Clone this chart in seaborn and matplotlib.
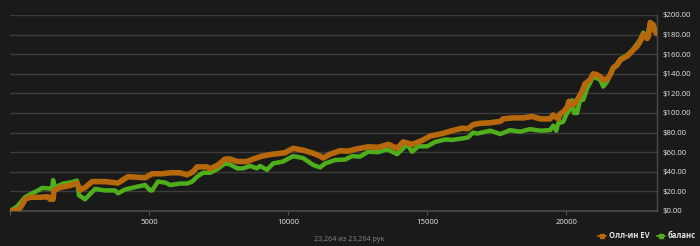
import numpy as np
import pandas as pd
import matplotlib
matplotlib.use("Agg")
import matplotlib.pyplot as plt
import seaborn as sns
from matplotlib.lines import Line2D
from matplotlib.ticker import FuncFormatter

# ---- data ----
ev_hands = [0, 300, 430, 540, 720, 1080, 1370, 1440, 1550, 1580, 1800, 2160, 2410, 2520, 2700,
            2950, 3420, 3880, 4240, 4860, 5110, 5470, 5760, 6110, 6370, 6580, 6730, 7090, 7190,
            7480, 7730, 7910, 8170, 8520, 8740, 9060, 9460, 9890, 10180, 10540, 10900, 11150,
            11260, 11510, 11870, 12160, 12410, 12880, 13240, 13600, 13920, 14140, 14460, 14820,
            15110, 15540, 15900, 16260, 16470, 16650, 16910, 17270, 17630, 17730, 18090, 18450,
            18780, 19060, 19420, 19530, 19710, 19780, 19930, 20030, 20100, 20210, 20320, 20430,
            20570, 20680, 20860, 20970, 21110, 21220, 21330, 21470, 21580, 21690, 21830, 21940,
            22050, 22190, 22300, 22410, 22550, 22660, 22770, 22910, 22950, 23020, 23130, 23200,
            23264]
ev_values = [0, 1, 6, 12, 14, 14, 14.5, 12, 12, 21, 24, 26, 28.5, 21.5, 24,
             30, 30, 28.5, 35, 34, 38, 38, 39, 39, 37, 40, 45, 45, 43,
             47, 53, 53, 50.5, 50.5, 53, 56, 58, 59.5, 64, 62, 59, 56,
             54, 58, 61.5, 61, 63, 65.5, 65, 68, 64, 70.5, 68, 72,
             76.5, 79, 82, 84.5, 84, 88, 89.5, 90, 91.5, 94, 95, 95,
             96.5, 94, 94, 98, 94, 99, 102, 106, 112, 108, 110, 115,
             122, 130, 134, 140, 139, 137, 134, 134.5, 139, 146, 149, 154,
             156, 158, 161, 164.5, 168, 173, 180, 176, 178, 192, 190, 183,
             181]

bal_hands = [0, 250, 540, 790, 1010, 1150, 1440, 1510, 1550, 1620, 1910, 2160, 2410, 2480,
             2590, 2700, 3060, 3420, 3780, 3880, 4140, 4600, 4860, 5040, 5110, 5320, 5580,
             5760, 6110, 6370, 6550, 6730, 6940, 7190, 7440, 7730, 7910, 8170, 8380, 8630,
             8880, 8990, 9240, 9460, 9820, 10180, 10540, 10900, 11150, 11330, 11690, 12050,
             12300, 12590, 12880, 13240, 13560, 13920, 14140, 14280, 14460, 14680, 15000,
             15290, 15650, 15900, 16260, 16470, 16650, 16800, 17270, 17630, 17980, 18340,
             18700, 19060, 19420, 19530, 19640, 19710, 19890, 20030, 20140, 20210, 20280,
             20390, 20500, 20610, 20750, 20970, 21220, 21330, 21470, 21580, 21690, 21830,
             21940, 22190, 22410, 22660, 22770, 22910, 23020, 23200, 23264]
bal_values = [0, 4.4, 14, 18, 21, 23.5, 23, 22, 31.6, 24, 28, 29, 31, 16,
              14, 12, 22.5, 21, 21, 18, 22, 25, 26.5, 21, 21, 30, 29,
              26.5, 28, 28, 30, 35, 39, 39, 42.5, 48.5, 47.5, 43.5, 43.5, 46,
              43.5, 46, 42, 48.5, 50.5, 56, 54, 47, 44.5, 48.5, 52, 52.5,
              56, 55.5, 60.5, 60, 63, 58, 64, 68, 60.5, 66, 66,
              70.5, 73, 72.5, 74, 75, 80, 79, 82, 78.5, 82.5, 81,
              83.5, 82, 82.5, 87, 82, 89.5, 91, 100, 104, 113, 100,
              100, 113.5, 113.5, 125, 137, 134, 127, 132, 139, 146, 150,
              155, 159, 165, 175, 182, 177, 193, 183, 182]

series_names = ["Олл-ин EV", "баланс"]
x_ticks = [0, 5000, 10000, 15000, 20000]
x_tick_labels = ["", "5000", "10000", "15000", "20000"]
y_ticks = [0, 20, 40, 60, 80, 100, 120, 140, 160, 180, 200]
footer_text = "23,264 из 23,264 рук"

# ---- styling ----
BG = "#1a1a1a"
GRID = "#3c3c3c"
TEXT = "#e6e6e6"
ORANGE = "#b8680c"
GREEN = "#4fae1c"

sns.set_theme(style="dark")
plt.rcParams["font.family"] = ["Open Sans", "DejaVu Sans"]

df = pd.concat([
    pd.DataFrame({"hands": ev_hands, "value": ev_values, "series": series_names[0]}),
    pd.DataFrame({"hands": bal_hands, "value": bal_values, "series": series_names[1]}),
], ignore_index=True)

fig = plt.figure(figsize=(7.0, 2.46), dpi=100, facecolor=BG)
ax = fig.add_axes([10 / 700, 1 - 211 / 246, 647 / 700, 196 / 246])
ax.set_facecolor(BG)

sns.lineplot(data=df[df.series == series_names[1]], x="hands", y="value",
             color=GREEN, linewidth=3.2, ax=ax, legend=False, estimator=None,
             sort=False)
sns.lineplot(data=df[df.series == series_names[0]], x="hands", y="value",
             color=ORANGE, linewidth=4.0, ax=ax, legend=False, estimator=None,
             sort=False)
ax.lines[0].set_zorder(2)
ax.lines[1].set_zorder(3)

ax.set_xlim(0, 23264)
ax.set_ylim(0, 200)
ax.set_xlabel("")
ax.set_ylabel("")

ax.yaxis.tick_right()
ax.set_yticks(y_ticks)
ax.yaxis.set_major_formatter(FuncFormatter(lambda v, p: f"${v:.2f}"))
ax.set_xticks(x_ticks)
ax.set_xticklabels(x_tick_labels)

ax.grid(True, axis="y", color=GRID, linewidth=1.0)
ax.grid(False, axis="x")
ax.set_axisbelow(True)

for s in ["top", "left"]:
    ax.spines[s].set_visible(False)
ax.spines["bottom"].set_color("#4a4a4a")
ax.spines["bottom"].set_linewidth(1.2)
ax.spines["right"].set_color("#4a4a4a")
ax.spines["right"].set_linewidth(1.0)

ax.tick_params(axis="y", which="both", right=False, length=0, pad=4.3,
               labelsize=5.6, labelcolor=TEXT)
ax.tick_params(axis="x", which="both", bottom=True, length=3, width=0.8,
               color="#555555", pad=2.5, labelsize=5.6, labelcolor=TEXT)

handles = [Line2D([0], [0], color=ORANGE, lw=1.3, marker="s", markersize=2.5),
           Line2D([0], [0], color=GREEN, lw=1.3, marker="s", markersize=2.5)]
leg = fig.legend(handles, series_names, loc="center right", bbox_to_anchor=(1.0, 1 - 236 / 246),
                 ncol=2, frameon=False, fontsize=5.5, handlelength=1.1,
                 handletextpad=0.4, columnspacing=0.9, borderaxespad=0.1)
for t in leg.get_texts():
    t.set_color(TEXT)
    t.set_fontweight("bold")

fig.text(349 / 700, 1 - 239.5 / 246, footer_text, ha="center", va="center",
         fontsize=5.1, color="#8a8a8a")

fig.savefig("out.png", dpi=100, facecolor=BG)
